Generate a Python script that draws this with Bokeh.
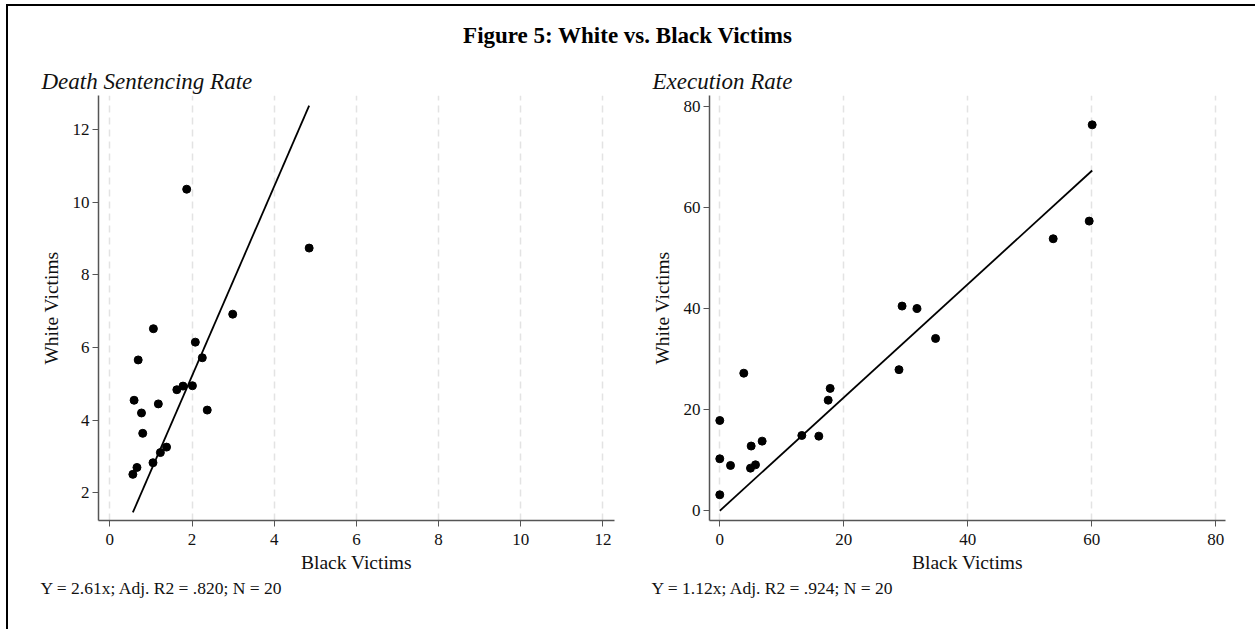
from bokeh.plotting import figure
from bokeh.models import Range1d, FixedTicker, Title, Div
from bokeh.layouts import column, row
from bokeh.embed import file_html
from bokeh.resources import INLINE

# ---- data ----
ds_black = [1.87, 4.85, 2.99, 1.06, 2.08, 0.69, 2.25, 1.63, 1.78, 2.01,
            0.59, 1.18, 0.77, 2.37, 0.80, 1.38, 1.23, 1.05, 0.66, 0.56]
ds_white = [10.36, 8.74, 6.92, 6.52, 6.15, 5.66, 5.72, 4.84, 4.94, 4.95,
            4.55, 4.45, 4.20, 4.28, 3.64, 3.26, 3.11, 2.83, 2.70, 2.51]
ds_slope = 2.61

ex_black = [0.0, 0.0, 0.0, 1.73, 3.87, 5.06, 4.95, 5.76, 6.83, 13.23,
            15.97, 17.48, 17.8, 28.9, 29.4, 31.8, 34.8, 53.77, 59.58, 60.06]
ex_white = [17.85, 10.28, 3.16, 8.96, 27.2, 12.8, 8.43, 9.09, 13.77, 14.89,
            14.76, 21.87, 24.2, 27.9, 40.47, 40.0, 34.07, 53.78, 57.27, 76.3]
ex_slope = 1.12

ds_xticks = [0, 2, 4, 6, 8, 10, 12]
ds_yticks = [2, 4, 6, 8, 10, 12]
ex_xticks = [0, 20, 40, 60, 80]
ex_yticks = [0, 20, 40, 60, 80]

main_title = "Figure 5: White vs. Black Victims"
sub_titles = ["Death Sentencing Rate", "Execution Rate"]
notes = ["Y = 2.61x; Adj. R2 = .820; N = 20", "Y = 1.12x; Adj. R2 = .924; N = 20"]
x_label = "Black Victims"
y_label = "White Victims"

SERIF = "Liberation Serif"
AXIS_COL = "#555555"


def make_panel(xs, ys, slope, xr, yr, xt, yt, sub, note, width, bl):
    p = figure(width=width, height=575, x_range=Range1d(*xr), y_range=Range1d(*yr),
               output_backend="svg", toolbar_location=None,
               min_border_left=bl, min_border_right=22,
               min_border_top=41, min_border_bottom=109)
    p.outline_line_color = None
    p.background_fill_color = "white"
    p.border_fill_color = "white"

    p.add_layout(Title(text=sub, align="left", offset=-57,
                       text_font=SERIF, text_font_size="23px",
                       text_font_style="italic", text_color="#111111",
                       standoff=4), "above")
    p.add_layout(Title(text=note, align="left", offset=-58,
                       text_font=SERIF, text_font_size="17.5px",
                       text_font_style="normal", text_color="#111111",
                       standoff=0), "below")

    for ax, ticks, lab in ((p.xaxis[0], xt, x_label), (p.yaxis[0], yt, y_label)):
        ax.ticker = FixedTicker(ticks=ticks)
        ax.minor_tick_line_color = None
        ax.major_tick_out = 6
        ax.major_tick_in = 0
        ax.axis_line_color = AXIS_COL
        ax.axis_line_width = 1.5
        ax.major_tick_line_color = AXIS_COL
        ax.major_label_text_font = SERIF
        ax.major_label_text_font_size = "17px"
        ax.major_label_text_color = "#111111"
        ax.axis_label = lab
        ax.axis_label_text_font = SERIF
        ax.axis_label_text_font_size = "19.5px"
        ax.axis_label_text_font_style = "normal"
        ax.axis_label_text_color = "#111111"
    p.xaxis[0].major_label_standoff = 7
    p.xaxis[0].axis_label_standoff = 4
    p.yaxis[0].major_label_standoff = 3
    p.yaxis[0].axis_label_standoff = 8
    p.yaxis[0].major_label_orientation = "horizontal"

    p.ygrid.grid_line_color = None
    p.xgrid.grid_line_color = "#e3e3e3"
    p.xgrid.grid_line_dash = "7 5"
    p.xgrid.grid_line_width = 1.5
    p.xgrid.ticker = FixedTicker(ticks=xt)

    x0, x1 = min(xs), max(xs)
    p.line([x0, x1], [slope * x0, slope * x1], line_color="black", line_width=1.8)
    p.scatter(xs, ys, size=8, color="black")
    return p


p1 = make_panel(ds_black, ds_white, ds_slope, (-0.276, 12.28), (1.24, 12.94),
                ds_xticks, ds_yticks, sub_titles[0], notes[0], 628, 90)
p2 = make_panel(ex_black, ex_white, ex_slope, (-1.66, 81.56), (-1.92, 82.1),
                ex_xticks, ex_yticks, sub_titles[1], notes[1], 611, 73)

title_div = Div(text=f'<div style="font-family: \'{SERIF}\'; font-weight: bold; font-size: 23px; '
                     f'color: #000; text-align: center; padding-top: 14px; width: 1239px;">{main_title}</div>',
                width=1247, height=48, margin=0)

layout = column(title_div, row(p1, p2, spacing=0), spacing=0,
                styles={"border-left": "2px solid black", "border-top": "2px solid black",
                        "margin-left": "6px", "margin-top": "4px",
                        "background-color": "white"})

open("out.html", "w").write(file_html(layout, INLINE))
